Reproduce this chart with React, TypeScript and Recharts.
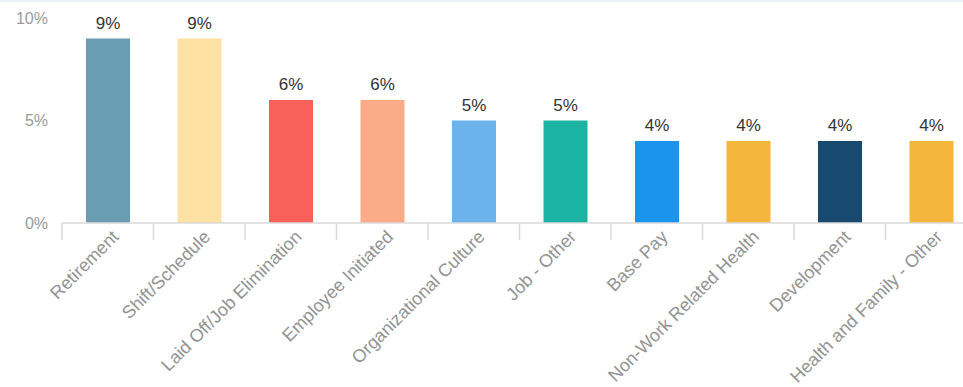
import { BarChart, Bar, XAxis, YAxis, Cell, LabelList } from 'recharts'

const categories = [
  'Retirement',
  'Shift/Schedule',
  'Laid Off/Job Elimination',
  'Employee Initiated',
  'Organizational Culture',
  'Job - Other',
  'Base Pay',
  'Non-Work Related Health',
  'Development',
  'Health and Family - Other',
]
const values = [9, 9, 6, 6, 5, 5, 4, 4, 4, 4]
const colors = [
  '#6a9db1',
  '#fde2a4',
  '#f9605a',
  '#fbab87',
  '#6cb3ec',
  '#1bb3a4',
  '#1a94ec',
  '#f4b73c',
  '#184a6f',
  '#f4b73c',
]
const yTicks = [0, 5, 10]

const data = categories.map((name, i) => ({ name, value: values[i] }))

const CHART_W = 980
const PLOT_LEFT = 62
const PLOT_RIGHT_MARGIN = 3
const BAND = (CHART_W - PLOT_LEFT - PLOT_RIGHT_MARGIN) / categories.length

function XTick(props: any) {
  const { x, y, payload } = props
  return (
    <g>
      <line x1={x - BAND / 2} y1={y - 8} x2={x - BAND / 2} y2={y + 9} stroke="#dadada" strokeWidth={1.5} />
      <g transform={`translate(${x + 12},${y + 7})`}>
        <text x={0} y={0} textAnchor="end" transform="rotate(-45)" fill="#939393" fontSize={18}>
          {payload.value}
        </text>
      </g>
    </g>
  )
}

export default function App() {
  return (
    <div
      style={{
        position: 'absolute',
        left: 0,
        top: 0,
        width: 963,
        height: 387,
        overflow: 'hidden',
        background: '#fff',
        fontFamily: '"Liberation Sans", Arial, sans-serif',
      }}
    >
      <div style={{ position: 'absolute', left: 0, top: 0, width: 963, height: 2, background: '#eaf1f7' }} />
      <BarChart
        width={CHART_W}
        height={387}
        data={data}
        margin={{ top: 18, right: PLOT_RIGHT_MARGIN, bottom: 0, left: 0 }}
      >
        <XAxis
          dataKey="name"
          interval={0}
          height={164}
          tickLine={false}
          axisLine={{ stroke: '#dadada', strokeWidth: 1.5 }}
          tick={<XTick />}
        />
        <YAxis
          width={PLOT_LEFT}
          domain={[0, 10]}
          ticks={yTicks}
          axisLine={false}
          tickLine={false}
          tickMargin={8}
          tickFormatter={(v: number) => `${v}%`}
          tick={{ fill: '#9a9a9a', fontSize: 16 }}
        />
        <Bar dataKey="value" barSize={44} isAnimationActive={false}>
          {data.map((d, i) => (
            <Cell key={d.name} fill={colors[i]} />
          ))}
          <LabelList
            dataKey="value"
            position="top"
            offset={10}
            formatter={(v: any) => `${v}%`}
            fill="#333"
            fontSize={17}
          />
        </Bar>
      </BarChart>
    </div>
  )
}
